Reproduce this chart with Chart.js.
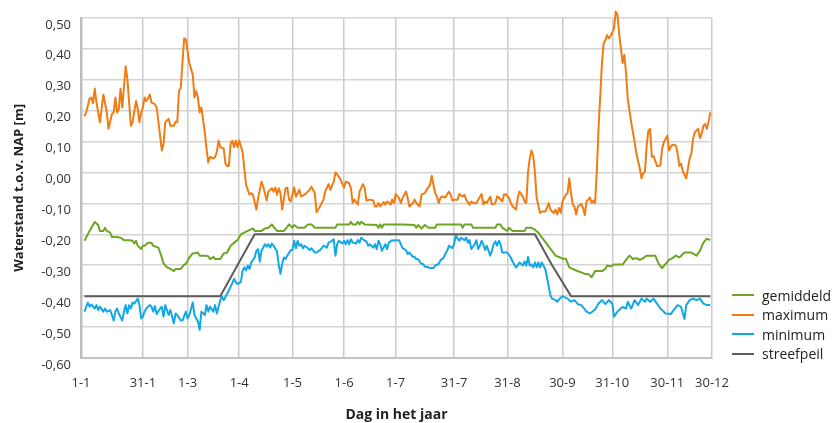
<!DOCTYPE html>
<html><head><meta charset="utf-8">
<script src="https://cdn.jsdelivr.net/npm/chart.js@4/dist/chart.umd.min.js"></script>
<style>
html,body{margin:0;padding:0;background:#fff;}
#wrap{position:relative;width:834px;height:423px;}
#legend{position:absolute;left:732px;top:285.5px;font-family:'Open Sans',sans-serif;font-size:14px;color:#222;}
.row{display:flex;align-items:center;height:19.5px;white-space:nowrap;}
.sw{width:22px;height:2px;margin-right:8px;}
</style></head><body>
<div id="wrap"><canvas id="c" width="834" height="423"></canvas><div id="legend"></div></div>
<script>
// x-axis tick positions (day of year as drawn) and labels
const tickDays = [-2, 34, 60, 90, 121, 151, 181, 215, 246, 278, 307, 339, 365];
const tickLabels = ['1-1','31-1','1-3','1-4','1-5','1-6','1-7','31-7','31-8','30-9','31-10','30-11','30-12'];

const seriesNames = ['gemiddeld','maximum','minimum','streefpeil'];
const seriesColors = ['#6ea524','#f07c12','#12a8e6','#5c5c5c'];

// maximum
const maxDays = [0,1,3,4,5,6,7,9,11,13,14,16,17,18,19,20,21,22,24,25,27,28,30,31,32,33,34,35,36,37,38,39,41,42,44,45,46,47,49,50,52,53,54,55,56,57,58,59,61,63,64,65,66,67,68,70,71,72,73,75,76,77,78,79,81,82,83,84,85,86,87,88,89,90,92,94,96,97,98,100,101,103,104,106,107,109,110,111,112,113,114,115,117,118,119,120,122,123,125,126,128,129,131,132,134,135,137,139,140,142,143,145,146,148,149,151,152,154,155,156,157,159,160,162,163,164,166,168,169,170,171,172,174,175,176,178,179,180,181,183,184,185,187,188,189,191,192,193,195,196,198,199,201,202,203,204,205,206,207,208,210,211,212,213,214,215,217,218,220,221,222,224,225,226,228,229,231,232,233,234,236,237,239,240,241,243,244,245,247,248,249,251,252,253,255,256,257,258,259,260,261,262,263,265,266,268,269,270,271,273,274,275,276,277,278,280,281,282,283,284,285,286,287,289,290,291,292,293,294,295,296,297,298,299,300,301,302,303,304,305,306,308,309,310,311,312,313,314,315,316,318,320,321,323,324,325,326,327,328,329,330,331,333,334,335,336,337,339,340,341,342,344,345,346,347,348,350,351,352,353,354,355,357,358,359,360,361,362,363,364];
const maxValues = [0.181,0.194,0.239,0.242,0.224,0.271,0.226,0.162,0.252,0.194,0.141,0.189,0.194,0.242,0.194,0.205,0.271,0.210,0.343,0.300,0.151,0.162,0.231,0.205,0.162,0.194,0.210,0.242,0.231,0.239,0.252,0.226,0.221,0.210,0.119,0.071,0.093,0.162,0.173,0.151,0.151,0.164,0.162,0.263,0.274,0.354,0.434,0.430,0.354,0.316,0.242,0.263,0.242,0.194,0.210,0.130,0.077,0.032,0.050,0.045,0.050,0.066,0.103,0.082,0.077,0.029,0.021,0.021,0.093,0.103,0.082,0.103,0.082,0.103,0.065,-0.040,-0.072,-0.067,-0.072,-0.120,-0.083,-0.030,-0.046,-0.091,-0.062,-0.051,-0.062,-0.049,-0.072,-0.051,-0.067,-0.120,-0.051,-0.049,-0.088,-0.094,-0.049,-0.078,-0.056,-0.078,-0.072,-0.067,-0.056,-0.046,-0.067,-0.129,-0.110,-0.088,-0.062,-0.038,-0.056,-0.030,0.000,-0.014,-0.024,-0.049,-0.030,-0.035,-0.051,-0.099,-0.088,-0.104,-0.062,-0.038,-0.051,-0.091,-0.088,-0.091,-0.110,-0.110,-0.099,-0.110,-0.096,-0.104,-0.094,-0.104,-0.088,-0.099,-0.070,-0.083,-0.099,-0.083,-0.062,-0.083,-0.110,-0.099,-0.088,-0.099,-0.110,-0.072,-0.067,-0.056,-0.040,-0.011,-0.040,-0.067,-0.078,-0.099,-0.083,-0.078,-0.081,-0.070,-0.062,-0.072,-0.091,-0.088,-0.088,-0.070,-0.078,-0.072,-0.088,-0.104,-0.094,-0.099,-0.099,-0.088,-0.070,-0.104,-0.094,-0.099,-0.078,-0.104,-0.099,-0.078,-0.081,-0.094,-0.072,-0.070,-0.083,-0.099,-0.110,-0.120,-0.083,-0.062,-0.078,-0.094,-0.099,0.002,0.045,0.071,0.055,0.002,-0.083,-0.131,-0.126,-0.126,-0.115,-0.099,-0.120,-0.131,-0.120,-0.136,-0.115,-0.131,-0.094,-0.072,-0.067,-0.019,-0.067,-0.104,-0.110,-0.136,-0.110,-0.102,-0.115,-0.138,-0.094,-0.088,-0.081,-0.099,-0.091,-0.099,0.002,0.141,0.247,0.354,0.418,0.428,0.444,0.434,0.441,0.465,0.520,0.510,0.449,0.402,0.354,0.380,0.322,0.237,0.162,0.098,0.061,0.013,-0.019,-0.003,0.002,0.087,0.135,0.141,0.050,0.053,0.021,0.021,0.024,0.077,0.098,0.119,0.071,0.082,0.090,0.087,0.061,0.021,0.029,0.004,-0.019,0.013,0.045,0.061,0.109,0.130,0.141,0.111,0.125,0.151,0.157,0.141,0.162,0.194];

// gemiddeld
const avgDays = [0,3,6,8,9,11,12,13,15,16,19,21,23,26,28,29,30,31,33,34,35,37,39,40,43,45,46,48,50,52,53,56,58,59,61,63,66,67,70,72,73,75,76,79,81,83,85,87,89,91,92,95,98,99,103,105,107,109,110,112,116,118,119,121,122,124,128,130,132,134,146,147,154,155,156,158,159,160,161,163,170,171,172,173,174,185,192,193,194,196,198,200,204,205,219,220,221,225,226,239,240,242,243,246,247,249,256,257,260,262,264,269,274,277,278,280,282,286,289,291,293,295,297,301,303,304,306,308,313,315,317,319,321,323,325,327,332,334,336,338,340,342,344,346,349,353,356,358,360,362,364];
const avgValues = [-0.221,-0.189,-0.160,-0.170,-0.189,-0.189,-0.179,-0.189,-0.195,-0.209,-0.209,-0.211,-0.219,-0.219,-0.221,-0.230,-0.221,-0.237,-0.248,-0.237,-0.237,-0.227,-0.227,-0.237,-0.243,-0.275,-0.294,-0.307,-0.312,-0.319,-0.312,-0.312,-0.298,-0.296,-0.275,-0.262,-0.259,-0.269,-0.269,-0.271,-0.280,-0.273,-0.280,-0.280,-0.262,-0.259,-0.237,-0.227,-0.219,-0.200,-0.197,-0.189,-0.181,-0.189,-0.189,-0.181,-0.179,-0.168,-0.176,-0.189,-0.189,-0.176,-0.168,-0.179,-0.170,-0.179,-0.179,-0.168,-0.168,-0.179,-0.179,-0.168,-0.168,-0.160,-0.168,-0.168,-0.160,-0.168,-0.160,-0.168,-0.170,-0.179,-0.168,-0.179,-0.168,-0.168,-0.170,-0.179,-0.170,-0.181,-0.170,-0.179,-0.179,-0.168,-0.168,-0.179,-0.168,-0.168,-0.179,-0.179,-0.168,-0.168,-0.179,-0.189,-0.179,-0.189,-0.189,-0.179,-0.179,-0.185,-0.195,-0.232,-0.269,-0.276,-0.279,-0.279,-0.307,-0.317,-0.323,-0.328,-0.328,-0.339,-0.319,-0.319,-0.312,-0.301,-0.304,-0.298,-0.298,-0.283,-0.269,-0.280,-0.277,-0.283,-0.277,-0.269,-0.269,-0.296,-0.309,-0.296,-0.283,-0.277,-0.269,-0.275,-0.259,-0.259,-0.269,-0.253,-0.227,-0.214,-0.219];

// minimum
const minDays = [0,2,3,4,6,7,8,9,11,12,13,15,16,17,18,19,20,22,23,24,25,26,27,28,29,31,32,33,34,35,36,38,39,40,41,42,44,45,46,47,49,50,52,53,54,56,57,59,60,61,63,64,66,67,68,70,71,72,73,75,76,77,79,80,81,83,84,86,87,88,89,91,92,93,94,95,96,97,99,100,101,102,103,105,106,107,108,109,110,112,113,114,115,116,117,118,120,121,122,123,124,125,126,127,128,130,131,132,134,135,137,138,139,141,142,144,145,146,147,148,150,151,152,153,154,155,156,158,159,160,161,163,164,165,166,168,169,170,171,172,173,175,176,177,179,180,181,183,184,185,187,188,189,191,192,193,194,196,197,198,199,201,203,204,206,207,209,210,211,212,214,215,216,217,218,219,221,222,223,224,225,227,228,229,230,231,232,233,234,236,237,238,239,240,241,242,243,245,246,248,249,251,252,253,255,256,257,258,259,260,261,262,263,264,265,266,268,269,271,272,274,275,276,278,281,283,285,287,289,292,294,297,299,301,303,305,307,308,310,313,315,316,318,320,322,324,326,327,329,331,333,335,338,341,343,345,347,349,350,352,354,356,358,360,362,364];
const minValues = [-0.450,-0.421,-0.434,-0.427,-0.440,-0.429,-0.445,-0.434,-0.450,-0.440,-0.450,-0.445,-0.461,-0.479,-0.450,-0.440,-0.456,-0.479,-0.450,-0.429,-0.456,-0.429,-0.440,-0.421,-0.424,-0.408,-0.429,-0.472,-0.466,-0.450,-0.440,-0.429,-0.434,-0.450,-0.432,-0.458,-0.440,-0.434,-0.466,-0.429,-0.461,-0.445,-0.488,-0.456,-0.461,-0.479,-0.479,-0.450,-0.472,-0.461,-0.421,-0.461,-0.482,-0.509,-0.450,-0.461,-0.429,-0.450,-0.434,-0.450,-0.429,-0.456,-0.413,-0.402,-0.413,-0.392,-0.381,-0.358,-0.344,-0.354,-0.361,-0.354,-0.317,-0.307,-0.317,-0.301,-0.312,-0.291,-0.275,-0.253,-0.248,-0.288,-0.253,-0.232,-0.240,-0.232,-0.243,-0.230,-0.237,-0.256,-0.298,-0.328,-0.296,-0.275,-0.280,-0.269,-0.251,-0.251,-0.221,-0.245,-0.221,-0.237,-0.232,-0.245,-0.237,-0.245,-0.251,-0.245,-0.259,-0.259,-0.251,-0.245,-0.237,-0.243,-0.227,-0.221,-0.216,-0.269,-0.232,-0.221,-0.230,-0.221,-0.232,-0.219,-0.232,-0.216,-0.227,-0.230,-0.219,-0.227,-0.211,-0.221,-0.223,-0.237,-0.232,-0.243,-0.232,-0.248,-0.221,-0.232,-0.253,-0.232,-0.248,-0.227,-0.219,-0.221,-0.219,-0.219,-0.232,-0.245,-0.251,-0.264,-0.259,-0.273,-0.273,-0.280,-0.280,-0.296,-0.296,-0.305,-0.305,-0.309,-0.309,-0.301,-0.296,-0.285,-0.275,-0.262,-0.253,-0.237,-0.245,-0.232,-0.202,-0.213,-0.221,-0.211,-0.219,-0.211,-0.227,-0.219,-0.248,-0.232,-0.219,-0.248,-0.237,-0.221,-0.232,-0.251,-0.237,-0.269,-0.253,-0.232,-0.223,-0.237,-0.221,-0.232,-0.259,-0.259,-0.259,-0.275,-0.288,-0.307,-0.301,-0.291,-0.301,-0.288,-0.301,-0.273,-0.301,-0.298,-0.307,-0.291,-0.307,-0.291,-0.307,-0.291,-0.312,-0.339,-0.397,-0.408,-0.413,-0.418,-0.411,-0.400,-0.408,-0.418,-0.413,-0.426,-0.429,-0.450,-0.456,-0.443,-0.424,-0.413,-0.426,-0.413,-0.424,-0.466,-0.450,-0.435,-0.440,-0.418,-0.440,-0.413,-0.429,-0.408,-0.418,-0.408,-0.418,-0.408,-0.424,-0.440,-0.456,-0.458,-0.443,-0.429,-0.435,-0.474,-0.429,-0.413,-0.408,-0.413,-0.408,-0.424,-0.429,-0.429];

// streefpeil
const targetDays = [0,79,89,99,262,272,283,364];
const targetValues = [-0.40,-0.40,-0.30,-0.20,-0.20,-0.30,-0.40,-0.40];

const pts = (d, v) => d.map((x, i) => ({x: x, y: v[i]}));
const fmt = v => { const r = Math.round(v * 100) / 100; return (r === 0 ? 0 : r).toFixed(2).replace('.', ','); };

Chart.defaults.font.family = "'Open Sans', sans-serif";
Chart.defaults.font.size = 13;
Chart.defaults.color = '#333';

const mk = (i, d, v, order, extra) => Object.assign({
  label: seriesNames[i], data: pts(d, v), borderColor: seriesColors[i], backgroundColor: seriesColors[i],
  borderWidth: 2, pointRadius: 0, tension: 0, fill: false, borderJoinStyle: 'round', order: order
}, extra || {});

new Chart(document.getElementById('c'), {
  type: 'line',
  data: { datasets: [
    mk(3, targetDays, targetValues, 0),
    mk(0, avgDays, avgValues, 1),
    mk(2, minDays, minValues, 2),
    mk(1, maxDays, maxValues, 3, {clip: false})
  ]},
  options: {
    responsive: false, animation: false, devicePixelRatio: 1,
    layout: { padding: { top: 14, right: 122, left: 0, bottom: 0 } },
    plugins: { legend: { display: false }, tooltip: { enabled: false } },
    scales: {
      x: {
        type: 'linear', min: -2, max: 365,
        afterBuildTicks: s => { s.ticks = tickDays.map(v => ({ value: v })); },
        afterFit: s => { s.height = 65; },
        ticks: { autoSkip: false, maxRotation: 0, minRotation: 0, padding: 17, color: '#333',
                 callback: (v, i) => tickLabels[i] },
        grid: { color: '#cccccc', lineWidth: 1.5, drawTicks: false },
        border: { color: '#c4c4c4', width: 2 },
        title: { display: true, text: 'Dag in het jaar', color: '#222',
                 font: { size: 14, weight: 'bold' }, padding: { top: 0, bottom: 0 } }
      },
      y: {
        min: -0.6, max: 0.5,
        afterFit: s => { s.width = 81; },
        ticks: { stepSize: 0.1, padding: 10, labelOffset: 7, color: '#333', callback: v => fmt(v) },
        grid: { color: '#d4d4d4', lineWidth: 1.5, drawTicks: false },
        border: { color: '#bdbdbd', width: 2.5 },
        title: { display: true, text: 'Waterstand t.o.v. NAP [m]', color: '#222',
                 font: { size: 13, weight: 'bold' }, padding: { top: 11, bottom: 0 } }
      }
    }
  }
});

const lg = document.getElementById('legend');
[0, 1, 2, 3].forEach(i => {
  const r = document.createElement('div'); r.className = 'row';
  const s = document.createElement('span'); s.className = 'sw'; s.style.background = seriesColors[i];
  const t = document.createElement('span'); t.textContent = seriesNames[i];
  r.appendChild(s); r.appendChild(t); lg.appendChild(r);
});
</script>
</body></html>
